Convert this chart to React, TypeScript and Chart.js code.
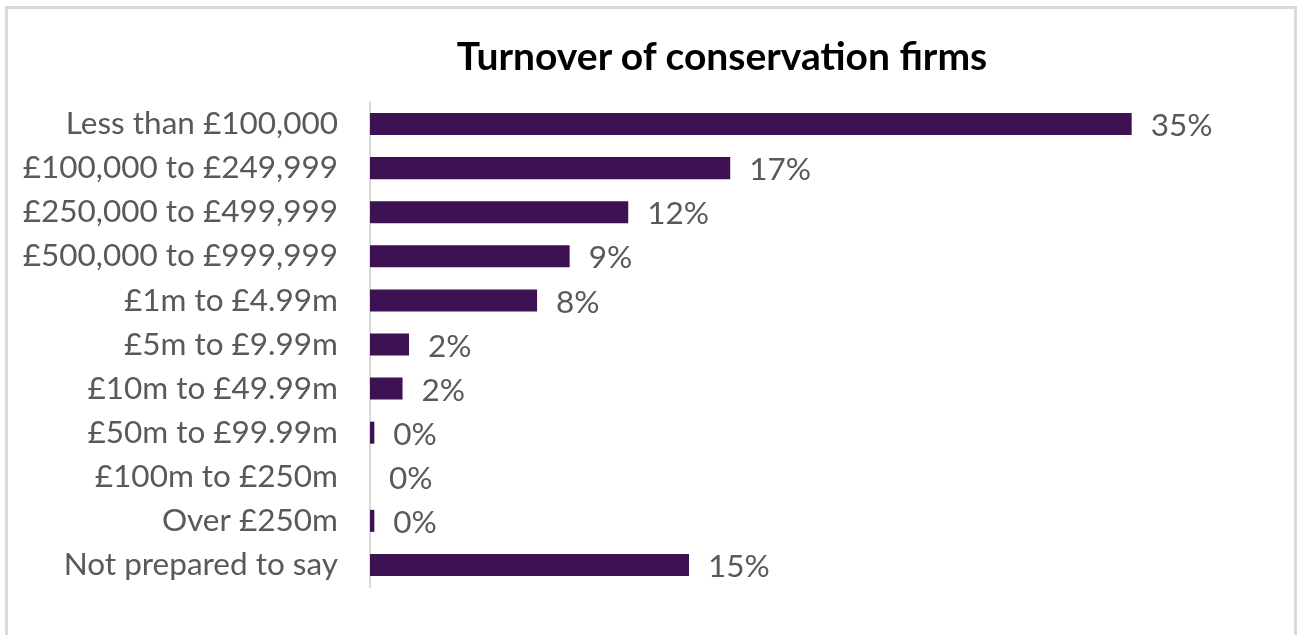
import React, { useEffect, useRef } from 'react';
import { Chart, registerables } from 'chart.js';

Chart.register(...registerables);

const chartTitle = 'Turnover of conservation firms';
const categories = [
  'Less than £100,000',
  '£100,000 to £249,999',
  '£250,000 to £499,999',
  '£500,000 to £999,999',
  '£1m to £4.99m',
  '£5m to £9.99m',
  '£10m to £49.99m',
  '£50m to £99.99m',
  '£100m to £250m',
  'Over £250m',
  'Not prepared to say',
];
const shares = [35.1, 16.6, 11.9, 9.2, 7.7, 1.8, 1.5, 0.2, 0, 0.2, 14.7];

const FONT = 'Lato';
const LABEL_SIZE = 31.5;
const TITLE_SIZE = 39;
const TEXT_GREY = '#595959';
const BAR_COLOR = '#3D1152';

const valueLabels = {
  id: 'valueLabels',
  afterDatasetsDraw(chart: any) {
    const { ctx } = chart;
    const meta = chart.getDatasetMeta(0);
    const data = chart.data.datasets[0].data as number[];
    ctx.save();
    ctx.font = `${LABEL_SIZE}px ${FONT}`;
    ctx.fillStyle = TEXT_GREY;
    ctx.textAlign = 'left';
    ctx.textBaseline = 'middle';
    meta.data.forEach((bar: any, i: number) => {
      ctx.fillText(Math.round(data[i]) + '%', bar.x + 19, bar.y + 2);
    });
    ctx.restore();
  },
};

export default function App() {
  const canvasRef = useRef<HTMLCanvasElement | null>(null);

  useEffect(() => {
    let chart: Chart | null = null;
    let cancelled = false;
    const make = () => {
      if (cancelled || !canvasRef.current) return;
      chart = new Chart(canvasRef.current, {
        type: 'bar',
        data: {
          labels: categories,
          datasets: [
            {
              data: shares,
              backgroundColor: BAR_COLOR,
              borderWidth: 0,
              categoryPercentage: 1,
              barPercentage: 0.5,
            },
          ],
        },
        options: {
          indexAxis: 'y',
          animation: false,
          responsive: true,
          maintainAspectRatio: false,
          layout: { padding: { left: 0, right: 63, top: 102, bottom: 48 } },
          plugins: {
            legend: { display: false },
            tooltip: { enabled: false },
            title: { display: false },
          },
          scales: {
            x: { display: false, min: 0, max: 40 },
            y: {
              grid: { display: false, drawTicks: false, tickLength: 0 },
              border: { display: true, color: '#d9d9d9', width: 2 },
              ticks: {
                color: TEXT_GREY,
                font: { family: FONT, size: LABEL_SIZE },
                padding: 32,
                autoSkip: false,
              },
              afterFit(scale: any) {
                scale.width = 370;
                scale.paddingTop = 0;
                scale.paddingBottom = 0;
              },
            },
          },
        },
        plugins: [valueLabels],
      });
    };
    const fonts = (document as any).fonts;
    if (fonts && fonts.load) {
      Promise.all([
        fonts.load(`${LABEL_SIZE}px ${FONT}`),
        fonts.load(`bold ${TITLE_SIZE}px ${FONT}`),
      ]).then(make, make);
    } else {
      make();
    }
    return () => {
      cancelled = true;
      if (chart) chart.destroy();
    };
  }, []);

  return (
    <div
      style={{
        position: 'absolute',
        left: 0,
        top: 0,
        width: 1301,
        height: 635,
        overflow: 'hidden',
        background: '#ffffff',
      }}
    >
      <div
        style={{
          position: 'absolute',
          left: 5,
          top: 6,
          width: 1286,
          height: 700,
          border: '3px solid #dadada',
        }}
      />
      <div style={{ position: 'absolute', left: 0, top: 0, width: 1301, height: 635 }}>
        <canvas ref={canvasRef} />
      </div>
      <div
        style={{
          position: 'absolute',
          left: 322,
          top: 36,
          width: 800,
          textAlign: 'center',
          fontFamily: FONT,
          fontWeight: 'bold',
          fontSize: TITLE_SIZE,
          lineHeight: `${TITLE_SIZE}px`,
          color: '#000000',
          whiteSpace: 'nowrap',
        }}
      >
        {chartTitle}
      </div>
    </div>
  );
}
